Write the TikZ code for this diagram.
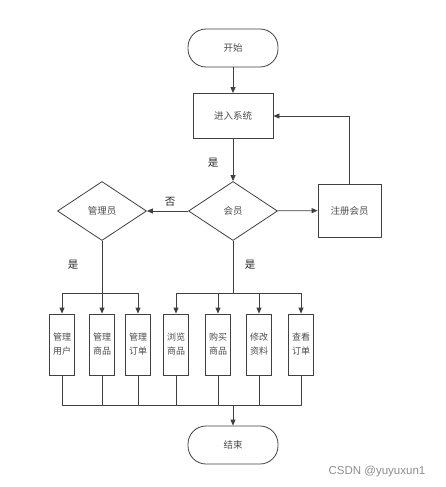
\documentclass[tikz,border=0pt]{standalone}
\usepackage{fontspec}
\newfontfamily\cjk{Noto Sans CJK SC}
\setsansfont{Liberation Sans}
\usetikzlibrary{arrows.meta, shapes.geometric, positioning, calc}

\tikzset{
  line/.style={draw=black!75, line width=0.8pt},
  arr/.style={line, -{Triangle[length=6pt,width=5pt]}},
  term/.style={line, rounded corners=18pt, minimum width=90pt, minimum height=38pt,
    font=\cjk\fontsize{9.5}{11}\selectfont, text=black!70},
  proc/.style={line, minimum width=80pt, minimum height=45pt,
    font=\cjk\fontsize{9.5}{11}\selectfont, text=black!70},
  decide/.style={line, diamond, aspect=1.5, inner sep=0pt, minimum width=89pt,
    minimum height=59pt, font=\cjk\fontsize{9.5}{11}\selectfont, text=black!70},
  func/.style={line, minimum width=25pt, minimum height=61pt, inner sep=1pt, align=center,
    font=\cjk\fontsize{9}{14}\selectfont, text=black!70},
  lbl/.style={font=\cjk\fontsize{10.5}{12}\selectfont, text=black!85},
}

\begin{document}
\begin{tikzpicture}[x=1pt, y=-1pt]
\useasboundingbox (0,0) rectangle (446,487);

% Main flow
\node[term] (start) at (233,48) {开始};
\node[proc] (sys) at (233,116) {进入系统};
\node[decide] (member) at (233,211) {会员};
\node[decide] (admin) at (102,211) {管理员};
\node[proc, minimum width=63pt, minimum height=53pt] (reg) at (349.5,210.5) {注册会员};
\node[term] (end) at (233,445) {结束};

% Function boxes
\node[func] (users) at (62,344.5) {管理\\用户};
\node[func] (goods) at (102,344.5) {管理\\商品};
\node[func] (orders) at (138,344.5) {管理\\订单};
\node[func] (browse) at (176,344.5) {浏览\\商品};
\node[func] (buy) at (218,344.5) {购买\\商品};
\node[func] (edit) at (259,344.5) {修改\\资料};
\node[func] (view) at (301,344.5) {查看\\订单};

\coordinate (lsplit) at (102,293);
\coordinate (rsplit) at (233,293);
\coordinate (join) at (233,405);

% Connectors
\draw[arr] (start) -- (sys);
\draw[arr] (sys) -- (member);
\draw[arr] (member) -- (admin);
\draw[arr] (member) -- (reg);
\draw[arr] (reg.north) |- (sys.east);

\draw[line] (admin.south) -- (lsplit);
\draw[arr] (lsplit) -| (users.north);
\draw[arr] (lsplit) -- (goods.north);
\draw[arr] (lsplit) -| (orders.north);

\draw[line] (member.south) -- (rsplit);
\draw[arr] (rsplit) -| (browse.north);
\draw[arr] (rsplit) -| (buy.north);
\draw[arr] (rsplit) -| (edit.north);
\draw[arr] (rsplit) -| (view.north);

\foreach \n in {users, goods, orders, browse, buy, edit, view}
  \draw[line] (\n.south) |- (join);
\draw[arr] (join) -- (end);

% Labels
\node[lbl] (yes1) at (213,163) {是};
\node[lbl] (no1) at (170,202) {否};
\node[lbl] (yes2) at (73,265) {是};
\node[lbl] (yes3) at (250,265) {是};
\node[font=\sffamily\fontsize{11.5}{13}\selectfont, text=black!45] (mark) at (377,472) {CSDN @yuyuxun1};
\end{tikzpicture}
\end{document}
